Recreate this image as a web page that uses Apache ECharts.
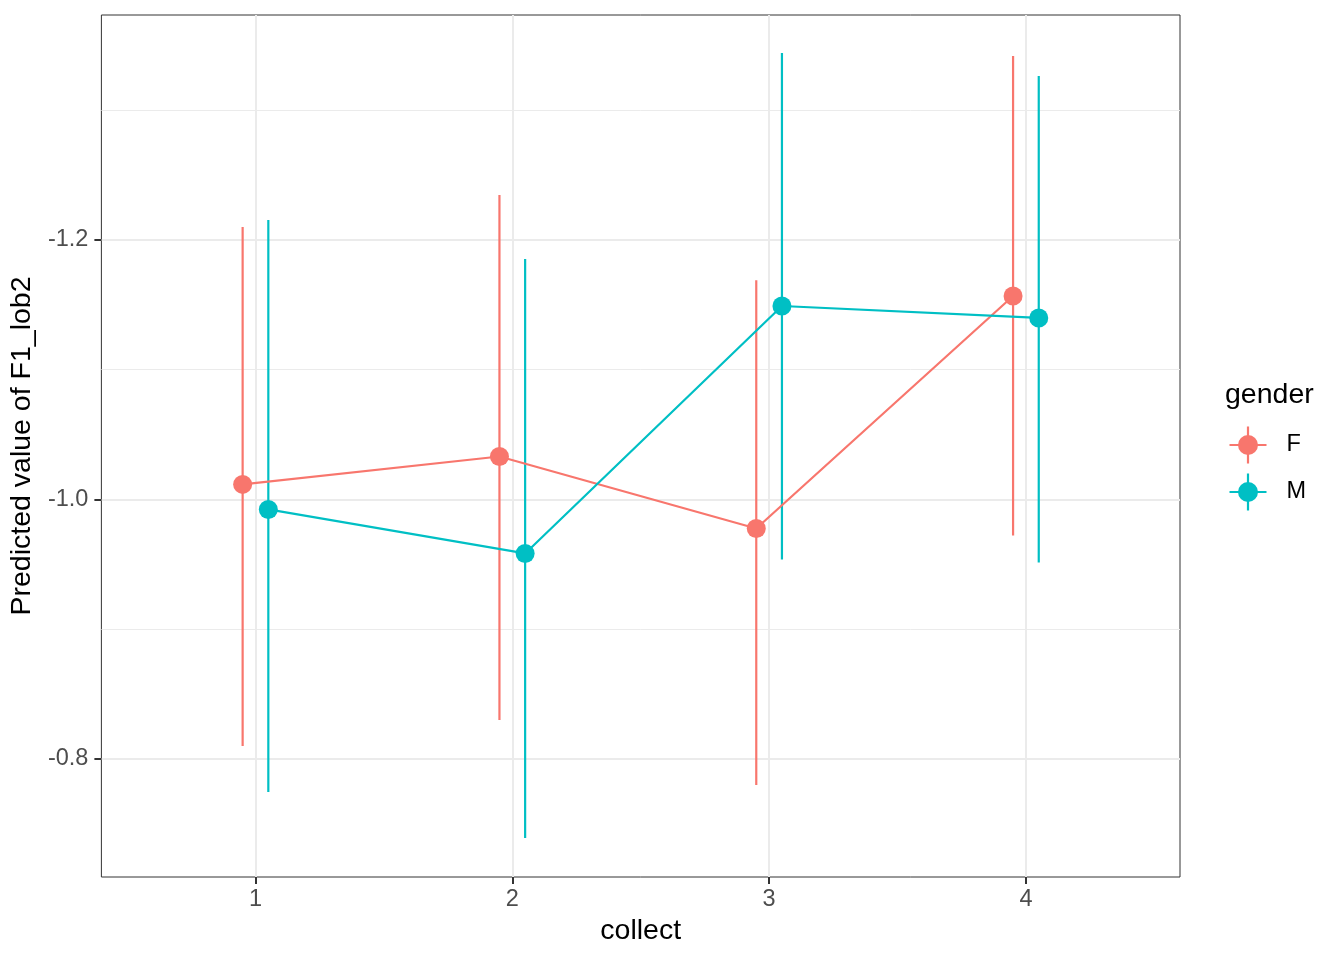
<!DOCTYPE html>
<html><head><meta charset="utf-8">
<script src="https://cdn.jsdelivr.net/npm/echarts@6/dist/echarts.min.js"></script>
<style>html,body{margin:0;padding:0;background:#fff}#c{width:1344px;height:960px}</style>
</head><body><div id="c"></div>
<script>
const categories = [1, 2, 3, 4];
const groups = ['F', 'M'];
const colors = ['#F8766D', '#00BFC4'];
const dodge = [-0.05, 0.05];
const fValues = [-1.0116, -1.0331, -0.9776, -1.1568];
const fLower = [-1.210, -1.2347, -1.169, -1.3418];
const fUpper = [-0.810, -0.830, -0.780, -0.9723];
const mValues = [-0.9923, -0.9584, -1.1491, -1.1399];
const mLower = [-1.2154, -1.1854, -1.3441, -1.3264];
const mUpper = [-0.7746, -0.7391, -0.9538, -0.9514];
const yTicks = [-1.2, -1.0, -0.8];
const yMinor = [-1.3, -1.1, -0.9];

const values = [fValues, mValues], lowers = [fLower, mLower], uppers = [fUpper, mUpper];
const FONT = 'Liberation Sans, Arial, sans-serif';
const series = [];
groups.forEach((g, gi) => {
  const ebData = categories.map((c, i) => [c + dodge[gi], lowers[gi][i], uppers[gi][i]]);
  series.push({
    type: 'custom', name: g, z: 3, silent: true,
    data: ebData,
    encode: {x: 0, y: [1, 2]},
    renderItem: (params, api) => {
      const p1 = api.coord([api.value(0), api.value(1)]);
      const p2 = api.coord([api.value(0), api.value(2)]);
      return {type: 'line', shape: {x1: p1[0], y1: p1[1], x2: p2[0], y2: p2[1]},
        style: {stroke: colors[gi], lineWidth: 2.2}};
    }
  });
  series.push({
    type: 'line', name: g, z: 4,
    data: categories.map((c, i) => [c + dodge[gi], values[gi][i]]),
    symbol: 'circle', symbolSize: 19, showSymbol: true,
    lineStyle: {color: colors[gi], width: 2.2},
    itemStyle: {color: colors[gi]},
    markLine: gi === 0 ? {
      silent: true, symbol: 'none', label: {show: false}, z: 1,
      lineStyle: {color: '#ebebeb', width: 1, type: 'solid'},
      data: yMinor.map(v => ({yAxis: v}))
    } : undefined
  });
});

const iconPath = 'path://M0,17.4 L37,17.4 L37,19.6 L0,19.6 Z M17.4,0 L19.6,0 L19.6,37 L17.4,37 Z M8.5,18.5 A10,10 0 1,1 28.5,18.5 A10,10 0 1,1 8.5,18.5 Z';

const chart = echarts.init(document.getElementById('c'), null, {renderer: 'canvas'});
chart.setOption({
  animation: false,
  backgroundColor: '#fff',
  grid: {left: 101, right: 164, top: 15, bottom: 83, show: true, borderColor: '#333', borderWidth: 1, backgroundColor: 'transparent', containLabel: false},
  xAxis: {
    type: 'value', min: 0.4, max: 4.6,
    name: 'collect', nameLocation: 'middle', nameGap: 37,
    nameTextStyle: {fontFamily: FONT, fontSize: 28.5, color: '#000'},
    axisLine: {show: false},
    axisTick: {show: true, length: 7, lineStyle: {color: '#333', width: 2}, customValues: categories},
    axisLabel: {customValues: categories, fontFamily: FONT, fontSize: 23.5, color: '#4d4d4d', margin: 11},
    splitLine: {show: true, lineStyle: {color: '#ebebeb', width: 2}}
  },
  yAxis: {
    type: 'value', inverse: true, min: -1.3734, max: -0.709,
    name: 'Predicted value of F1_lob2', nameLocation: 'middle', nameGap: 59,
    nameTextStyle: {fontFamily: FONT, fontSize: 28.5, color: '#000'},
    axisLine: {show: false},
    axisTick: {show: true, length: 7, lineStyle: {color: '#333', width: 2}, customValues: yTicks},
    axisLabel: {customValues: yTicks, fontFamily: FONT, fontSize: 23.5, color: '#4d4d4d', margin: 13,
      formatter: v => v.toFixed(1)},
    splitLine: {show: true, lineStyle: {color: '#ebebeb', width: 2}}
  },
  legend: {
    orient: 'vertical', left: 1229.5, top: 426.5, padding: 0,
    itemWidth: 37, itemHeight: 37, itemGap: 10,
    data: groups.map((g, gi) => ({name: g, icon: iconPath, itemStyle: {color: colors[gi]}})),
    textStyle: {fontFamily: FONT, fontSize: 23.5, color: '#000', padding: [0, 0, 0, 15]},
    selectedMode: false
  },
  graphic: [{type: 'text', x: 1225, y: 395, style: {text: 'gender', fontFamily: FONT, fontSize: 28.5, fill: '#000', verticalAlign: 'middle'}}],
  series: series
});
</script></body></html>
